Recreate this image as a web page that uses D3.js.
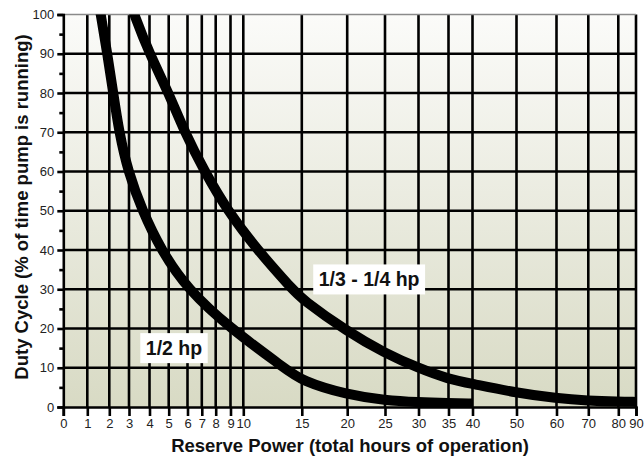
<!DOCTYPE html>
<html>
<head>
<meta charset="utf-8">
<script src="https://cdn.jsdelivr.net/npm/d3@7"></script>
<style>
  body { margin: 0; background: #fff; }
  svg { display: block; font-family: "Liberation Sans", Arial, sans-serif; }
</style>
</head>
<body>
<svg id="chart" width="644" height="457"></svg>
<script>
// x axis tick values (hours) - the axis is hand-spaced, not linear/log
const hourTicks = [0, 1, 2, 3, 4, 5, 6, 7, 8, 9, 10, 15, 20, 25, 30, 35, 40, 50, 60, 70, 80, 90];
const dutyTicks = [0, 10, 20, 30, 40, 50, 60, 70, 80, 90, 100];
const dutyMinor = [5, 15, 25, 35, 45, 55, 65, 75, 85, 95];

// [hours, duty %]
const halfHp = [[1.55, 102], [1.61, 100], [1.91, 90], [2.2, 80], [2.5, 70], [2.95, 60], [3.65, 50], [4.6, 40],
  [6.0, 30], [9.0, 20], [13.5, 10], [15, 6.6], [20, 3.1], [25, 1.7], [30, 1.2], [35, 1.0], [40, 0.9]];
const thirdQuarterHp = [[3.15, 102], [3.25, 100], [4.0, 90], [5.0, 80], [5.85, 70], [7.2, 60], [8.8, 50], [11.2, 40],
  [14.2, 30], [15, 27.5], [20, 19.2], [25, 13.7], [30, 9.9], [35, 7.1], [40, 5.9], [50, 3.6],
  [60, 2.2], [70, 1.6], [80, 1.35], [90, 1.3]];

const seriesLabels = [
  {text: "1/3 - 1/4 hp", at: [22.9, 32.5]},
  {text: "1/2 hp", at: [5.28, 15]}
];

// pixel spots of the x ticks (layout, kept apart from the data)
const hourTickPx = [63.3, 87.3, 109.3, 129, 149.5, 168.7, 187.5, 201.8, 215.7, 230.5, 243.3,
  301.8, 347.2, 385, 418.5, 448.5, 472.5, 516.5, 556.5, 588.3, 618.3, 636];

const svg = d3.select("#chart");

let x = d3.scaleLinear().domain(hourTicks).range(hourTickPx);
let y = d3.scaleLinear().domain([0, 100]).range([407, 14.5]);

const plotL = x(0), plotR = x(90), plotT = y(100), plotB = y(0);

// background gradient
let defs = svg.append("defs");
let grad = defs.append("linearGradient")
  .attr("id", "bg").attr("x1", 0).attr("y1", 0).attr("x2", 0).attr("y2", 1);
grad.append("stop").attr("offset", "0%").attr("stop-color", "#fbfbf9");
grad.append("stop").attr("offset", "100%").attr("stop-color", "#d8dac4");

defs.append("clipPath").attr("id", "plotClip")
  .append("rect")
  .attr("x", plotL).attr("y", plotT)
  .attr("width", plotR - plotL).attr("height", plotB - plotT);

svg.append("rect")
  .attr("x", plotL).attr("y", plotT)
  .attr("width", plotR - plotL).attr("height", plotB - plotT)
  .attr("fill", "url(#bg)");

// grid
let grid = svg.append("g");
grid.selectAll("line.v")
  .data(hourTicks.filter(d => d > 0))
  .enter().append("line")
  .attr("class", "v")
  .attr("x1", d => x(d)).attr("x2", d => x(d))
  .attr("y1", plotT).attr("y2", plotB)
  .attr("stroke", "#000").attr("stroke-width", 2.6);
grid.selectAll("line.h")
  .data(dutyTicks.filter(d => d > 0 && d < 100))
  .enter().append("line")
  .attr("class", "h")
  .attr("x1", plotL).attr("x2", plotR)
  .attr("y1", d => y(d)).attr("y2", d => y(d))
  .attr("stroke", "#000").attr("stroke-width", 2.6);
// top border
svg.append("line")
  .attr("x1", plotL).attr("x2", plotR)
  .attr("y1", plotT).attr("y2", plotT)
  .attr("stroke", "#8a8a8a").attr("stroke-width", 1.5);

// curves
let line = d3.line()
  .x(d => x(d[0]))
  .y(d => y(d[1]))
  .curve(d3.curveBasis);

let curves = svg.append("g").attr("clip-path", "url(#plotClip)");
curves.selectAll("path")
  .data([halfHp, thirdQuarterHp])
  .enter().append("path")
  .attr("d", line)
  .attr("fill", "none")
  .attr("stroke", "#000")
  .attr("stroke-width", 10);

// y axis
let yAxis = d3.axisLeft(y).tickValues(dutyTicks).tickSize(6).tickPadding(3);
let gy = svg.append("g").attr("transform", `translate(${plotL},0)`).call(yAxis);
gy.select(".domain").attr("stroke", "#000").attr("stroke-width", 2.6);
gy.selectAll(".tick line").attr("stroke-width", 2.6);
gy.selectAll(".tick text").attr("font-size", 13).attr("fill", "#222").attr("font-family", null);
let yMinor = d3.axisLeft(y).tickValues(dutyMinor).tickSize(4).tickFormat("");
let gym = svg.append("g").attr("transform", `translate(${plotL},0)`).call(yMinor);
gym.select(".domain").remove();
gym.selectAll(".tick line").attr("stroke-width", 2.6);

// x axis
let xAxis = d3.axisBottom(x).tickValues(hourTicks).tickSize(9).tickPadding(3);
let gx = svg.append("g").attr("transform", `translate(0,${plotB})`).call(xAxis);
gx.select(".domain").attr("stroke", "#000").attr("stroke-width", 2.6);
gx.selectAll(".tick line").attr("stroke-width", 2.6);
gx.selectAll(".tick text").attr("font-size", 13).attr("fill", "#222").attr("font-family", null);

// axis titles
svg.append("text")
  .attr("x", 350)
  .attr("y", 452)
  .attr("text-anchor", "middle")
  .attr("font-size", 18.5)
  .attr("font-weight", "bold")
  .attr("fill", "#111")
  .text("Reserve Power (total hours of operation)");

svg.append("text")
  .attr("transform", `translate(28,207) rotate(-90)`)
  .attr("text-anchor", "middle")
  .attr("font-size", 18.5)
  .attr("font-weight", "bold")
  .attr("fill", "#111")
  .text("Duty Cycle (% of time pump is running)");

// series labels with white boxes
let lab = svg.selectAll("g.lab")
  .data(seriesLabels)
  .enter().append("g")
  .attr("class", "lab")
  .attr("transform", d => `translate(${x(d.at[0])},${y(d.at[1])})`);
let labText = lab.append("text")
  .attr("text-anchor", "middle")
  .attr("dy", "0.36em")
  .attr("font-size", 19.5)
  .attr("font-weight", "bold")
  .attr("fill", "#111")
  .text(d => d.text);
labText.each(function () {
  let b = this.getBBox();
  d3.select(this.parentNode).insert("rect", "text")
    .attr("x", b.x - 5.5).attr("y", -15)
    .attr("width", b.width + 11).attr("height", 30)
    .attr("fill", "#fff");
});
</script>
</body>
</html>
